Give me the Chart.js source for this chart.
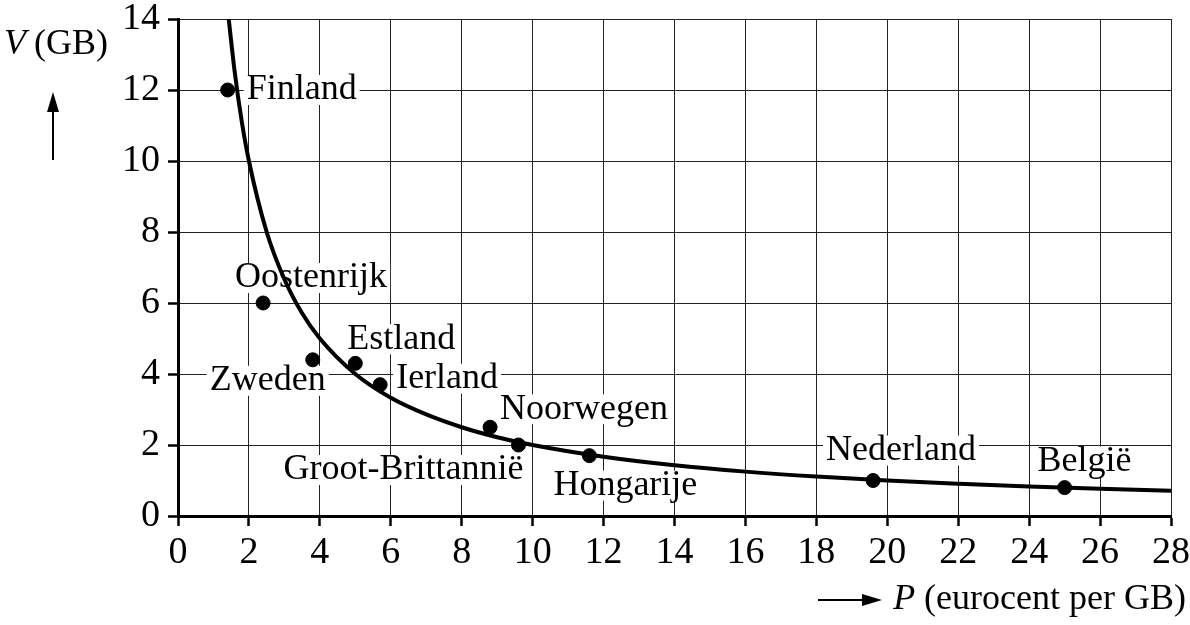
<!DOCTYPE html>
<html>
<head>
<meta charset="utf-8">
<script src="https://cdn.jsdelivr.net/npm/chart.js@4/dist/chart.umd.min.js"></script>
<style>
  body { margin: 0; background: #fff; }
  #wrap { width: 1190px; height: 625px; }
</style>
</head>
<body>
<div id="wrap"><canvas id="myChart" width="1190" height="625"></canvas></div>
<script>
// countries and their price P (eurocent per GB) / volume V (GB)
var countries = ['Finland', 'Oostenrijk', 'Zweden', 'Estland', 'Ierland', 'Noorwegen', 'Groot-Brittannië', 'Hongarije', 'Nederland', 'België'];
var priceP = [1.4, 2.4, 3.8, 5.0, 5.7, 8.8, 9.6, 11.6, 19.6, 25.0];
var volumeV = [12.0, 6.0, 4.4, 4.3, 3.7, 2.5, 2.0, 1.7, 1.0, 0.8];

// points
var curveP = [1.43, 1.6, 1.8, 2, 2.5, 3, 3.5, 4, 5, 6, 7, 8, 9, 10, 12, 14, 16, 18, 20, 22, 24, 26, 28];
var curveV = [14, 12.5, 11.1, 10, 8, 6.67, 5.71, 5, 4, 3.33, 2.86, 2.5, 2.22, 2, 1.67, 1.43, 1.25, 1.11, 1, 0.91, 0.83, 0.77, 0.71];

var xTicks = [0, 2, 4, 6, 8, 10, 12, 14, 16, 18, 20, 22, 24, 26, 28];
var yTicks = [0, 2, 4, 6, 8, 10, 12, 14];

var serif = '"Liberation Serif", "Times New Roman", serif';

// where each country label sits relative to its dot (pixels)
var labelPlace = {
    'Finland': [19, 0],
    'Oostenrijk': [-28, -25],
    'Zweden': [-103, 21],
    'Estland': [-8, -24],
    'Ierland': [16, -6],
    'Noorwegen': [10, -18],
    'Groot-Brittannië': [-235, 25],
    'Hongarije': [-36, 30],
    'Nederland': [-47, -30],
    'België': [-27, -26]
};

var curveData = curveP.map(function(p, i) { return {x: p, y: curveV[i]}; });
var pointData = priceP.map(function(p, i) { return {x: p, y: volumeV[i]}; });

var countryLabels = {
    id: 'countryLabels',
    beforeDatasetsDraw: function(chart) {
        var ctx = chart.ctx;
        var xs = chart.scales.x, ys = chart.scales.y;
        ctx.save();
        ctx.font = '36px ' + serif;
        ctx.textBaseline = 'middle';
        ctx.textAlign = 'left';
        for (var i = 0; i < countries.length; i++) {
            var off = labelPlace[countries[i]];
            var px = xs.getPixelForValue(priceP[i]) + off[0];
            var py = ys.getPixelForValue(volumeV[i]) + off[1];
            var w = ctx.measureText(countries[i]).width;
            ctx.fillStyle = '#fff';
            ctx.fillRect(px - 3, py - 15, w + 6, 30);
            ctx.fillStyle = '#000';
            ctx.fillText(countries[i], px, py);
        }
        ctx.restore();
    }
};

function arrowHead(ctx, x, y, dir) {
    ctx.beginPath();
    if (dir == 'up') {
        ctx.moveTo(x, y); ctx.lineTo(x - 6, y + 20); ctx.lineTo(x + 6, y + 20);
    } else {
        ctx.moveTo(x, y); ctx.lineTo(x - 20, y - 6); ctx.lineTo(x - 20, y + 6);
    }
    ctx.closePath();
    ctx.fill();
}

var axisTitles = {
    id: 'axisTitles',
    afterDraw: function(chart) {
        var ctx = chart.ctx;
        ctx.save();
        ctx.fillStyle = '#000';
        ctx.strokeStyle = '#000';
        ctx.textBaseline = 'middle';
        ctx.textAlign = 'left';
        // y title
        ctx.font = 'italic 36px ' + serif;
        ctx.fillText('V', 4, 45);
        ctx.font = '36px ' + serif;
        ctx.fillText('(GB)', 34, 45);
        ctx.lineWidth = 2;
        ctx.beginPath(); ctx.moveTo(53, 160); ctx.lineTo(53, 105); ctx.stroke();
        arrowHead(ctx, 53, 92, 'up');
        // x title
        ctx.beginPath(); ctx.moveTo(818, 600); ctx.lineTo(870, 600); ctx.stroke();
        arrowHead(ctx, 882, 600, 'right');
        ctx.textAlign = 'right';
        ctx.font = '36px ' + serif;
        var rest = ' (eurocent per GB)';
        ctx.fillText(rest, 1186, 600);
        var rw = ctx.measureText(rest).width;
        ctx.font = 'italic 36px ' + serif;
        ctx.fillText('P', 1186 - rw, 600);
        ctx.restore();
    }
};

// drop the extra room Chart.js keeps for overhanging tick labels
function noOverhang(scale) {
    scale.paddingTop = 0;
    scale.paddingBottom = 0;
    scale.paddingLeft = 0;
    scale.paddingRight = 0;
}

var config = {
    type: 'scatter',
    data: {
        datasets: [{
            type: 'line',
            data: curveData,
            borderColor: '#000',
            borderWidth: 4,
            pointRadius: 0,
            cubicInterpolationMode: 'monotone',
            fill: false
        }, {
            data: pointData,
            backgroundColor: '#000',
            borderColor: '#000',
            pointRadius: 7,
            pointHoverRadius: 7
        }]
    },
    options: {
        responsive: false,
        animation: false,
        devicePixelRatio: 1,
        layout: { padding: { top: 19, right: 19, left: 0, bottom: 0 } },
        plugins: {
            legend: { display: false },
            tooltip: { enabled: false }
        },
        scales: {
            x: {
                type: 'linear',
                min: 0, max: 28,
                afterBuildTicks: function(scale) { scale.ticks = xTicks.map(function(v) { return {value: v}; }); },
                afterFit: function(scale) { scale.height = 109; noOverhang(scale); },
                grid: { color: '#222', lineWidth: 1, tickLength: 10, tickWidth: 2.5, tickColor: '#000' },
                border: { color: '#000', width: 3 },
                ticks: { color: '#000', padding: 4, maxRotation: 0, font: { family: serif, size: 38 } }
            },
            y: {
                type: 'linear',
                min: 0, max: 14,
                afterBuildTicks: function(scale) { scale.ticks = yTicks.map(function(v) { return {value: v}; }); },
                afterFit: function(scale) { scale.width = 178; noOverhang(scale); },
                grid: { color: '#222', lineWidth: 1, tickLength: 10, tickWidth: 2.5, tickColor: '#000' },
                border: { color: '#000', width: 3 },
                ticks: { color: '#000', padding: 8, font: { family: serif, size: 38 } }
            }
        }
    },
    plugins: [countryLabels, axisTitles]
};

window.onload = function() {
    var ctx = document.getElementById('myChart').getContext('2d');
    window.myChart = new Chart(ctx, config);
};
</script>
</body>
</html>
